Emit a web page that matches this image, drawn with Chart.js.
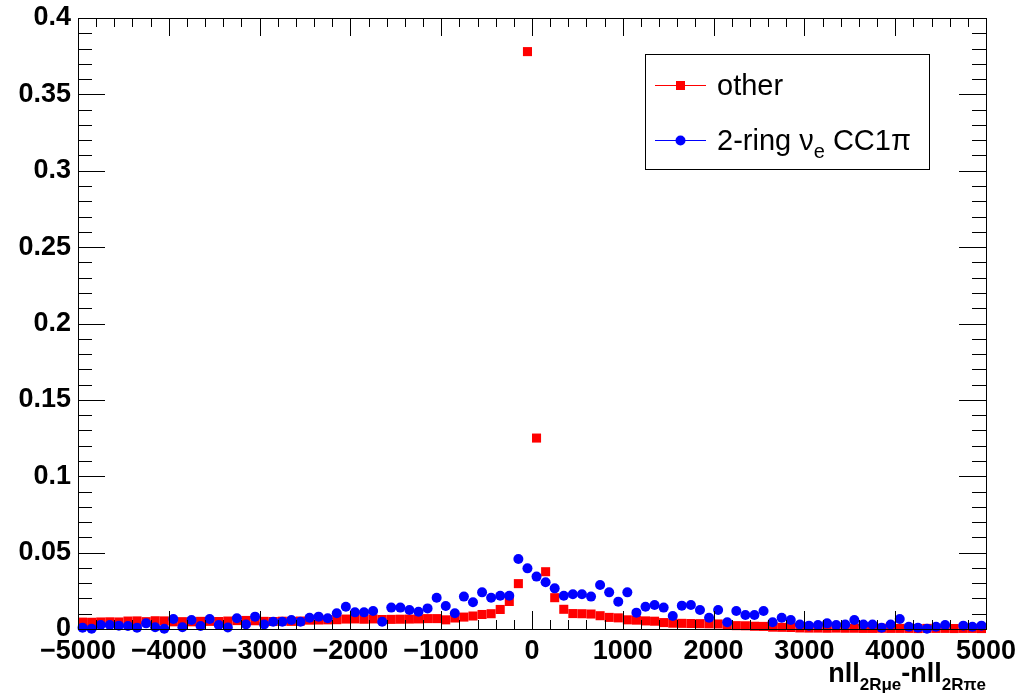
<!DOCTYPE html>
<html>
<head>
<meta charset="utf-8">
<script src="https://cdn.jsdelivr.net/npm/chart.js@4.4.1/dist/chart.umd.min.js"></script>
<style>
  html, body { margin: 0; padding: 0; background: #fff; }
  #wrap { width: 1030px; height: 698px; position: relative; }
</style>
</head>
<body>
<div id="wrap"><canvas id="plot"></canvas></div>
<script>
// histogram binning: 100 bins of width 100 between -5000 and 5000
const xMin = -5000;
const xMax = 5000;
const binWidth = 100;
const binCenters = Array.from({ length: 100 }, (_, i) => xMin + binWidth / 2 + i * binWidth);

const xTickValues = [-5000, -4000, -3000, -2000, -1000, 0, 1000, 2000, 3000, 4000, 5000];
const yTickValues = [0, 0.05, 0.1, 0.15, 0.2, 0.25, 0.3, 0.35, 0.4];
const yTickLabels = ['0', '0.05', '0.1', '0.15', '0.2', '0.25', '0.3', '0.35', '0.4'];

// "other" (red squares)
const otherValues = [
  0.0045, 0.0044, 0.0046, 0.0047, 0.0046, 0.0052, 0.0053, 0.0048, 0.0054, 0.0053,
  0.0047, 0.0048, 0.0047, 0.0050, 0.0050, 0.0049, 0.0052, 0.0055, 0.0056, 0.0054,
  0.0050, 0.0049, 0.0051, 0.0050, 0.0052, 0.0058, 0.0059, 0.0060, 0.0061, 0.0065,
  0.0066, 0.0064, 0.0066, 0.0062, 0.0063, 0.0064, 0.0065, 0.0066, 0.0068, 0.0068,
  0.0060, 0.0072, 0.0078, 0.0085, 0.0095, 0.0100, 0.0128, 0.0180, 0.0297, 0.3780,
  0.1250, 0.0375, 0.0205, 0.0129, 0.0101, 0.0100, 0.0098, 0.0087, 0.0076, 0.0073,
  0.0060, 0.0058, 0.0053, 0.0051, 0.0042, 0.0038, 0.0037, 0.0036, 0.0035, 0.0034,
  0.0033, 0.0023, 0.0022, 0.0021, 0.0018, 0.0017, 0.0012, 0.0011, 0.0010, 0.0007,
  0.0006, 0.0006, 0.0005, 0.0006, 0.0005, 0.0005, 0.0004, 0.0004, 0.0005, 0.0004,
  0.0004, 0.0004, 0.0003, 0.0004, 0.0004, 0.0004, 0.0003, 0.0004, 0.0004, 0.0003
];

// "2-ring nu_e CC1pi" (blue circles); null = empty bin
const ccValues = [
  0.0009, 0.0002, 0.0026, 0.0026, 0.0022, 0.0020, 0.0009, 0.0037, 0.0011, 0.0002,
  0.0065, 0.0011, 0.0059, 0.0020, 0.0065, 0.0026, 0.0010, 0.0070, 0.0030, 0.0081,
  0.0030, 0.0048, 0.0048, 0.0059, 0.0048, 0.0074, 0.0081, 0.0070, 0.0103, 0.0146,
  0.0109, 0.0109, 0.0118, 0.0048, 0.0140, 0.0140, 0.0124, 0.0113, 0.0135, 0.0205,
  0.0150, 0.0103, 0.0212, 0.0175, 0.0240, 0.0205, 0.0218, 0.0218, 0.0458, 0.0397,
  0.0343, 0.0306, 0.0266, 0.0218, 0.0227, 0.0227, 0.0212, 0.0288, 0.0240, 0.0179,
  0.0240, 0.0107, 0.0146, 0.0157, 0.0140, 0.0085, 0.0153, 0.0157, 0.0124, 0.0074,
  0.0124, 0.0044, 0.0118, 0.0092, 0.0092, 0.0118, 0.0044, 0.0074, 0.0059, 0.0030,
  0.0022, 0.0026, 0.0037, 0.0026, 0.0030, 0.0059, 0.0030, 0.0030, 0.0009, 0.0030,
  0.0065, 0.0015, 0.0009, 0.0002, 0.0015, 0.0026, null,   0.0022, 0.0015, 0.0022
];

const RED = '#ff0000';
const BLUE = '#0000ff';
const FONT = '"Liberation Sans", Arial, Helvetica, sans-serif';

const toPoints = vals => binCenters.map((x, i) => ({ x, y: vals[i] }));

// ROOT style frame with inward ticks on all four sides
const frameTicks = {
  id: 'frameTicks',
  afterDraw(chart) {
    const { ctx, chartArea: a, scales: { x, y } } = chart;
    ctx.save();
    ctx.strokeStyle = '#000';
    ctx.lineWidth = 1;
    ctx.strokeRect(a.left + 0.5, a.top + 0.5, a.right - a.left, a.bottom - a.top);
    ctx.beginPath();
    for (let i = 0; i <= 50; i++) {
      const px = Math.round(x.getPixelForValue(xMin + i * 200)) + 0.5;
      const len = i % 5 === 0 ? 18 : 9;
      ctx.moveTo(px, a.bottom); ctx.lineTo(px, a.bottom - len);
      ctx.moveTo(px, a.top); ctx.lineTo(px, a.top + len);
    }
    for (let i = 0; i <= 40; i++) {
      const py = Math.round(y.getPixelForValue(i * 0.01)) + 0.5;
      const len = i % 5 === 0 ? 27 : 14;
      ctx.moveTo(a.left, py); ctx.lineTo(a.left + len, py);
      ctx.moveTo(a.right, py); ctx.lineTo(a.right - len, py);
    }
    ctx.stroke();
    ctx.restore();
  }
};

// draws a run of [text, size, weight, baselineShift] pieces starting at x
function drawRich(ctx, pieces, x, y) {
  let cx = x;
  pieces.forEach(([t, size, weight, dy]) => {
    ctx.font = `${weight} ${size}px ${FONT}`;
    ctx.fillText(t, cx, y + dy);
    cx += ctx.measureText(t).width;
  });
}
function richWidth(ctx, pieces) {
  let w = 0;
  pieces.forEach(([t, size, weight]) => {
    ctx.font = `${weight} ${size}px ${FONT}`;
    w += ctx.measureText(t).width;
  });
  return w;
}

const decorations = {
  id: 'decorations',
  afterDraw(chart) {
    const { ctx, chartArea: a } = chart;
    ctx.save();
    ctx.fillStyle = '#000';
    ctx.textBaseline = 'alphabetic';

    // x axis title, right aligned to the frame
    const title = [
      ['nll', 27, 'bold', 0], ['2R\u03bce', 17, 'bold', 8],
      ['-nll', 27, 'bold', 0], ['2R\u03c0e', 17, 'bold', 8]
    ];
    drawRich(ctx, title, a.right - richWidth(ctx, title), 682);

    // legend box
    const bx = 645, by = 54, bw = 284, bh = 115;
    ctx.fillStyle = '#fff';
    ctx.fillRect(bx, by, bw, bh);
    ctx.strokeStyle = '#000';
    ctx.lineWidth = 1;
    ctx.strokeRect(bx + 0.5, by + 0.5, bw, bh);

    const rows = [
      { y: 85, color: RED, style: 'rect', text: [['other', 29, 'normal', 0]] },
      { y: 140, color: BLUE, style: 'circle', text: [['2-ring \u03bd', 29, 'normal', 0], ['e', 20, 'normal', 8], [' CC1\u03c0', 29, 'normal', 0]] }
    ];
    rows.forEach(r => {
      ctx.strokeStyle = r.color;
      ctx.beginPath();
      ctx.moveTo(655, r.y + 0.5); ctx.lineTo(706, r.y + 0.5);
      ctx.stroke();
      ctx.fillStyle = r.color;
      if (r.style === 'rect') ctx.fillRect(676, r.y - 4, 9, 9);
      else { ctx.beginPath(); ctx.arc(680.5, r.y + 0.5, 5, 0, Math.PI * 2); ctx.fill(); }
      ctx.fillStyle = '#000';
      drawRich(ctx, r.text, 717, r.y + 10);
    });
    ctx.restore();
  }
};

new Chart(document.getElementById('plot'), {
  type: 'scatter',
  data: {
    datasets: [
      {
        label: '2-ring \u03bde CC1\u03c0',
        data: toPoints(ccValues),
        backgroundColor: BLUE,
        borderColor: BLUE,
        pointStyle: 'circle',
        pointRadius: 5,
        pointBorderWidth: 0,
        order: 0,
        clip: false
      },
      {
        label: 'other',
        data: toPoints(otherValues),
        backgroundColor: RED,
        borderColor: RED,
        pointStyle: 'rect',
        pointRadius: 6.4,
        pointBorderWidth: 0,
        order: 1,
        clip: false
      }
    ]
  },
  options: {
    responsive: true,
    maintainAspectRatio: false,
    animation: false,
    layout: { padding: { top: 18, right: 44, left: 0, bottom: 0 } },
    plugins: { legend: { display: false }, tooltip: { enabled: false } },
    scales: {
      x: {
        type: 'linear',
        min: xMin,
        max: xMax,
        afterFit: s => { s.height = 69; s.paddingLeft = 0; s.paddingRight = 0; },
        afterBuildTicks: s => { s.ticks = xTickValues.map(v => ({ value: v })); },
        grid: { display: false, drawTicks: false },
        border: { display: false },
        ticks: {
          color: '#000',
          padding: 6,
          maxRotation: 0,
          font: { family: FONT, size: 27, weight: 'bold' },
          callback: v => (v < 0 ? '\u2212' + Math.abs(v) : String(v))
        }
      },
      y: {
        min: 0,
        max: 0.4,
        afterFit: s => { s.width = 78; s.paddingTop = 0; s.paddingBottom = 0; },
        afterBuildTicks: s => { s.ticks = yTickValues.map(v => ({ value: v })); },
        grid: { display: false, drawTicks: false },
        border: { display: false },
        ticks: {
          color: '#000',
          padding: 7,
          font: { family: FONT, size: 27, weight: 'bold' },
          callback: v => yTickLabels[yTickValues.findIndex(t => Math.abs(t - v) < 1e-9)]
        }
      }
    }
  },
  plugins: [frameTicks, decorations]
});
</script>
</body>
</html>
